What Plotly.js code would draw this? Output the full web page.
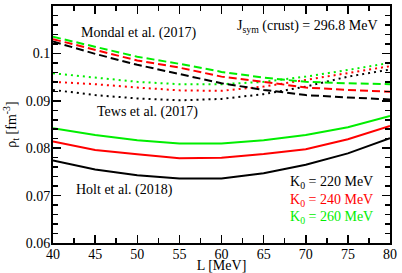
<!DOCTYPE html>
<html>
<head>
<meta charset="utf-8">
<script src="https://cdn.plot.ly/plotly-3.0.1.min.js"></script>
<style>html,body{margin:0;padding:0;background:#fff;}#chart{width:402px;height:273px;}</style>
</head>
<body>
<div id="chart"></div>
<script>
const L = [40, 45, 50, 55, 60, 65, 70, 75, 80];

// Holt et al. (2018) - solid
const holt220 = [0.0774, 0.0755, 0.0743, 0.0736, 0.0736, 0.0747, 0.0765, 0.0789, 0.0821];
const holt240 = [0.0814, 0.0796, 0.0787, 0.0779, 0.0780, 0.0788, 0.0798, 0.0819, 0.0847];
const holt260 = [0.0842, 0.0828, 0.0817, 0.0810, 0.0810, 0.0817, 0.0828, 0.0844, 0.0868];

// Tews et al. (2017) - dotted
const tews220 = [0.0923, 0.0912, 0.0905, 0.0901, 0.0904, 0.0914, 0.0930, 0.0951, 0.0966];
const tews240 = [0.0940, 0.0935, 0.0928, 0.0922, 0.0921, 0.0930, 0.0944, 0.0958, 0.0973];
const tews260 = [0.0958, 0.0949, 0.0940, 0.0935, 0.0935, 0.0940, 0.0951, 0.0965, 0.0980];

// Mondal et al. (2017) - dashed
const mondal220 = [0.1025, 0.0999, 0.0976, 0.0957, 0.0937, 0.0923, 0.0912, 0.0907, 0.0903];
const mondal240 = [0.1030, 0.1007, 0.0985, 0.0970, 0.0951, 0.0940, 0.0928, 0.0923, 0.0919];
const mondal260 = [0.1035, 0.1014, 0.0993, 0.0978, 0.0961, 0.0949, 0.0940, 0.0937, 0.0935];

const K0labels = ["K<sub>0</sub> = 220 MeV", "K<sub>0</sub> = 240 MeV", "K<sub>0</sub> = 260 MeV"];
const colors = ["#000000", "#ff0000", "#00ee00"];

const FONT = "Liberation Serif";

function tr(y, color, dash) {
  return {x: L, y: y, mode: "lines", type: "scatter", showlegend: false, hoverinfo: "skip",
          line: {color: color, width: 2, dash: dash}};
}

const data = [
  tr(holt220, colors[0], "solid"), tr(holt240, colors[1], "solid"), tr(holt260, colors[2], "solid"),
  tr(tews220, colors[0], "2px,4px"), tr(tews240, colors[1], "2px,4px"), tr(tews260, colors[2], "2px,4px"),
  tr(mondal220, colors[0], "8px,4px"), tr(mondal240, colors[1], "8px,4px"), tr(mondal260, colors[2], "8px,4px")
];

const axisCommon = {
  showgrid: false, zeroline: false, showline: true, linecolor: "#000", linewidth: 2,
  mirror: "allticks", ticks: "inside", ticklen: 8, tickwidth: 1.5, tickcolor: "#000",
  tickfont: {family: FONT, size: 14, color: "#000"}
};

const layout = {
  width: 402, height: 273,
  margin: {l: 53, r: 12, t: 6, b: 30},
  paper_bgcolor: "#fff", plot_bgcolor: "#fff",
  font: {family: FONT, color: "#000"},
  xaxis: Object.assign({}, axisCommon, {
    range: [40, 80], dtick: 5, tick0: 40, ticklabelstandoff: -3,
    minor: {dtick: 2.5, ticks: "inside", ticklen: 5, tickwidth: 1.5, tickcolor: "#000", showgrid: false},
    title: {text: "L [MeV]", font: {family: FONT, size: 14}, standoff: 0}
  }),
  yaxis: Object.assign({}, axisCommon, {
    range: [0.06, 0.11], dtick: 0.01, tick0: 0.06, ticklabelstandoff: -2,
    minor: {dtick: 0.002, ticks: "inside", ticklen: 5, tickwidth: 1.5, tickcolor: "#000", showgrid: false},
    title: {text: "ρ<sub>t</sub> [fm<sup>-3</sup>]", font: {family: FONT, size: 14}, standoff: 6}
  }),
  annotations: [
    {x: 50.1, y: 0.1043, xref: "x", yref: "y", text: "Mondal et al. (2017)", showarrow: false,
     font: {family: FONT, size: 14}, xanchor: "center"},
    {x: 51.2, y: 0.0876, xref: "x", yref: "y", text: "Tews et al. (2017)", showarrow: false,
     font: {family: FONT, size: 14}, xanchor: "center"},
    {x: 48.5, y: 0.0712, xref: "x", yref: "y", text: "Holt et al. (2018)", showarrow: false,
     font: {family: FONT, size: 14}, xanchor: "center"},
    {x: 0.97, y: 0.1056, xref: "paper", yref: "y", text: "J<sub>sym</sub> (crust) = 296.8 MeV", showarrow: false,
     font: {family: FONT, size: 14}, xanchor: "right"},
    {x: 0.955, y: 0.0727, xref: "paper", yref: "y", text: K0labels[0], showarrow: false,
     font: {family: FONT, size: 14, color: colors[0]}, xanchor: "right"},
    {x: 0.955, y: 0.0689, xref: "paper", yref: "y", text: K0labels[1], showarrow: false,
     font: {family: FONT, size: 14, color: colors[1]}, xanchor: "right"},
    {x: 0.955, y: 0.0653, xref: "paper", yref: "y", text: K0labels[2], showarrow: false,
     font: {family: FONT, size: 14, color: colors[2]}, xanchor: "right"}
  ]
};

Plotly.newPlot("chart", data, layout, {staticPlot: true, displayModeBar: false});
</script>
</body>
</html>
